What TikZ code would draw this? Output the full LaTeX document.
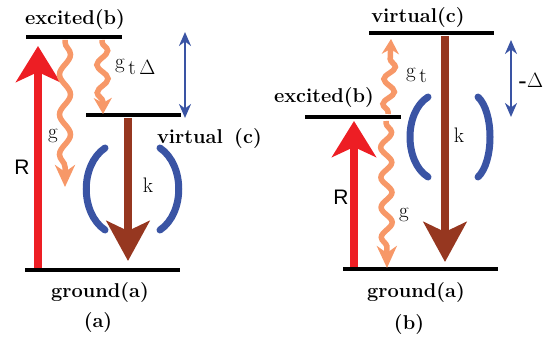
\documentclass[tikz,border=0pt]{standalone}
\usepackage{fontspec}
\usepackage{tikz}
\usetikzlibrary{arrows.meta,decorations.pathmorphing}
\newfontfamily\helvfont{Liberation Sans}
\definecolor{pumpred}{RGB}{237,30,36}
\definecolor{cavbrown}{RGB}{150,55,32}
\definecolor{mirrorblue}{RGB}{58,84,164}
\definecolor{decayorange}{RGB}{247,152,104}
\begin{document}
\begin{tikzpicture}[x=1pt,y=-1pt,
  level/.style={line width=4.5pt},
  lvllabel/.style={inner sep=1pt,font=\fontsize{20}{22}\selectfont\bfseries},
  symlabel/.style={inner sep=1pt,font=\fontsize{21}{23}\selectfont},
  rlabel/.style={inner sep=1pt,font=\fontsize{21}{23}\selectfont\helvfont},
  pump/.style={pumpred,line width=8pt,-{Stealth[length=36pt,width=44pt,inset=10pt]}},
  leak/.style={cavbrown,line width=8pt,-{Stealth[length=40pt,width=43pt,inset=10pt]}},
  mirror/.style={mirrorblue,line width=7pt,line cap=round},
  detune/.style={mirrorblue,line width=2.5pt,{Stealth[length=14pt,width=12pt]}-{Stealth[length=14pt,width=12pt]}},
  decay/.style={decayorange,line width=5.5pt,decorate,
    decoration={snake,amplitude=5.5pt,segment length=#1,pre length=2pt,post length=10pt}},
  decay/.default=36pt]
\useasboundingbox (0,0) rectangle (552,342);

% (a)
\coordinate (exaL) at (26,37);   \coordinate (exaR) at (122,37);
\coordinate (viaL) at (86,115);  \coordinate (viaR) at (181,115);
\coordinate (graL) at (25,270);  \coordinate (graR) at (180,270);
\draw[level] (exaL) -- (exaR);
\draw[level] (viaL) -- (viaR);
\draw[level] (graL) -- (graR);
\coordinate (Ra0) at (38,268);  \coordinate (Ra1) at (38,46);
\coordinate (ka0) at (128,118); \coordinate (ka1) at (128,261);
\coordinate (ga0) at (65,40);   \coordinate (ga1) at (65,187);
\coordinate (gta0) at (102,40); \coordinate (gta1) at (103,114);
\coordinate (Da0) at (185,32);  \coordinate (Da1) at (185,118);
\draw[pump] (Ra0) -- (Ra1);
\draw[leak] (ka0) -- (ka1);
\draw[decay=40pt,-{Stealth[length=22pt,width=20pt,inset=7pt]}] (ga0) -- (ga1);
\draw[decay=28pt,-{Stealth[length=16pt,width=18pt,inset=5pt]}] (gta0) -- (gta1);
\draw[mirror] (105,148) .. controls (80,165) and (80,213) .. (105,230);
\draw[mirror] (160,148) .. controls (185,165) and (185,213) .. (160,230);
\draw[detune] (Da0) -- (Da1);
\node[lvllabel] (exa) at (75,20) {excited(b)};
\node[lvllabel] (gra) at (100,293) {ground(a)};
\node[lvllabel] (via) at (190,137) {virtual};
\node[lvllabel] (vca) at (248,139) {(c)};
\node[lvllabel] (capa) at (98,323) {(a)};
\node[rlabel] (Ra) at (22,167) {R};
\node[symlabel] (ga) at (53,136) {g};
\node[symlabel,anchor=west] (gta) at (114,67) {g\raisebox{-6pt}{\,t\,$\Delta$}};
\node[symlabel] (ka) at (148,185) {k};

% (b)
\coordinate (vibL) at (369,33);  \coordinate (vibR) at (494,33);
\coordinate (exbL) at (305,117); \coordinate (exbR) at (401,117);
\coordinate (grbL) at (343,269); \coordinate (grbR) at (498,269);
\draw[level] (vibL) -- (vibR);
\draw[level] (exbL) -- (exbR);
\draw[level] (grbL) -- (grbR);
\coordinate (Rb0) at (354,267);  \coordinate (Rb1) at (354,121);
\coordinate (kb0) at (445,36);   \coordinate (kb1) at (445,262);
\coordinate (gb0) at (386,121);  \coordinate (gb1) at (387,268);
\coordinate (gtb0) at (388,114); \coordinate (gtb1) at (391,39);
\coordinate (Db0) at (511,40);   \coordinate (Db1) at (511,117);
\draw[pump] (Rb0) -- (Rb1);
\draw[leak] (kb0) -- (kb1);
\draw[decay=30pt,-{Stealth[length=22pt,width=20pt,inset=7pt]}] (gb0) -- (gb1);
\draw[decay=25pt,-{Stealth[length=15pt,width=17pt,inset=5pt]}] (gtb0) -- (gtb1);
\draw[mirror] (428,97) .. controls (404,112) and (404,162) .. (428,177);
\draw[mirror] (478,97) .. controls (494,112) and (494,162) .. (478,177);
\draw[detune] (Db0) -- (Db1);
\node[lvllabel] (vib) at (418,18) {virtual(c)};
\node[lvllabel] (exb) at (324,98) {excited(b)};
\node[lvllabel] (grb) at (416,293) {ground(a)};
\node[lvllabel] (capb) at (409,325) {(b)};
\node[rlabel] (Rb) at (341,197) {R};
\node[symlabel] (gb) at (404,215) {g};
\node[symlabel,anchor=west] (gtb) at (405,75) {g\raisebox{-5pt}{\,t}};
\node[symlabel,anchor=west] (Db) at (518,80) {\textbf{-}$\Delta$};
\node[symlabel] (kb) at (459,135) {k};
\end{tikzpicture}
\end{document}
